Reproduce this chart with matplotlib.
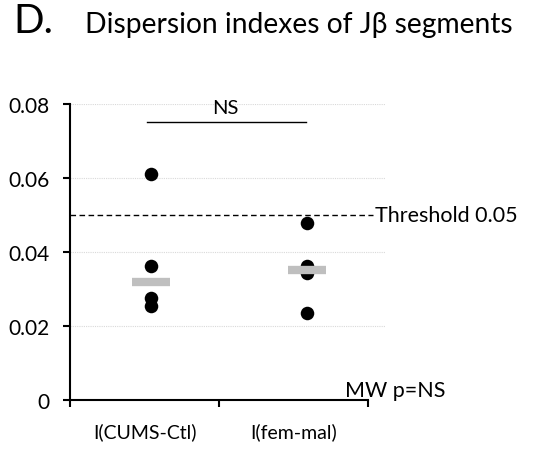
import matplotlib
matplotlib.use('Agg')
import matplotlib.pyplot as plt
import numpy as np

plt.rcParams['font.family'] = ['Lato', 'DejaVu Sans']

# data
categories = ['I(CUMS-Ctl)', 'I(fem-mal)']
cums_ctl = [0.0611, 0.0362, 0.0277, 0.0253]
fem_mal = [0.0478, 0.0362, 0.0342, 0.0234]
threshold = 0.05
y_ticks = [0, 0.02, 0.04, 0.06, 0.08]
y_tick_labels = ['0', '0.02', '0.04', '0.06', '0.08']

groups = [cums_ctl, fem_mal]
point_x = [1.043, 2.09]   # dots sit a little right of the category centres

fig = plt.figure(figsize=(5.48, 4.52), dpi=100)
ax = fig.add_axes([70 / 548, 1 - 401 / 452, 315 / 548, 296 / 452])

for xp, vals in zip(point_x, groups):
    ax.scatter([xp] * len(vals), vals, s=95, color='black', zorder=3, linewidths=0)
    med = np.median(vals)
    ax.hlines(med, xp - 0.128, xp + 0.128, color='#bfbfbf', lw=6, zorder=4)

ax.set_xlim(0.5, 2.614)
ax.set_ylim(0, 0.08)

# grid
for yv in y_ticks[1:]:
    ax.axhline(yv, color='#d9d9d9', lw=0.8, ls=(0, (1, 1)), zorder=0)

# threshold line
ax.plot([0.5, 2.533], [threshold, threshold], color='black', lw=1, ls=(0, (4, 2.5)), zorder=2)
ax.text(2.545, threshold, 'Threshold 0.05', fontsize=15.5, va='center', ha='left')

# significance bar
ax.plot([1.02, 2.085], [0.0752, 0.0752], color='black', lw=1)
ax.text(1.54, 0.0767, 'NS', fontsize=14.5, ha='center', va='bottom')

ax.text(2.346, 0.0012, 'MW p=NS', fontsize=15.5, ha='left', va='baseline')

for s in ['top', 'right']:
    ax.spines[s].set_visible(False)
ax.spines['bottom'].set_bounds(0.5, 2.5)
ax.spines['left'].set_linewidth(1.5)
ax.spines['bottom'].set_linewidth(1.5)

ax.set_yticks(y_ticks)
ax.set_yticklabels(y_tick_labels, fontsize=15)
ax.tick_params(axis='y', direction='out', length=5, width=1.5, pad=10)

ax.set_xticks([0.5, 1.5, 2.5])
ax.set_xticklabels([])
ax.set_xticks([1, 2], minor=True)
ax.set_xticklabels(categories, minor=True, fontsize=14)
ax.tick_params(axis='x', which='major', direction='out', length=5, width=1.5)
ax.tick_params(axis='x', which='minor', length=0, pad=16)

fig.text(13 / 548, 1 - 33 / 452, 'D.', fontsize=29, ha='left', va='baseline')
fig.text(85 / 548, 1 - 33 / 452, 'Dispersion indexes of J\u03b2 segments', fontsize=20.3,
         ha='left', va='baseline')

fig.savefig('out.png', dpi=100)
